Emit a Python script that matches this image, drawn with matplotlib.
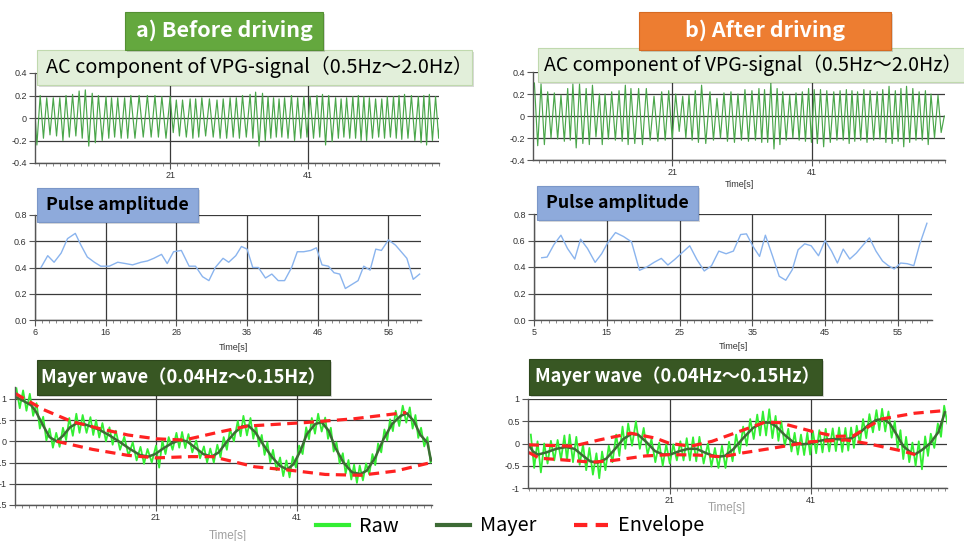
import matplotlib
matplotlib.use("Agg")
import matplotlib.pyplot as plt
from matplotlib.patches import Rectangle
from matplotlib.ticker import MultipleLocator

plt.rcParams['font.family'] = ['Liberation Sans', 'DejaVu Sans']
JP = ['Noto Sans CJK JP', 'DejaVu Sans']

# ---------------- data ----------------
# pulse amplitude (one value per beat)
pulse_t_left = [6.85, 7.8, 8.7, 9.7, 10.6, 11.7, 12.5, 13.4, 14.4, 15.3,
                16.5, 17.7, 18.8, 19.8, 21, 21.9, 22.8, 23.9, 24.7, 25.6,
                26.7, 27.8, 28.7, 29.7, 30.6, 31.5, 32.6, 33.4, 34.4, 35.2,
                36, 36.8, 37.6, 38.6, 39.5, 40.4, 41.3, 42.3, 43.1, 44,
                45, 45.8, 46.6, 47.5, 48.3, 49.1, 49.9, 50.8, 51.7, 52.5,
                53.4, 54.2, 55, 56, 57, 57.8, 58.6, 59.5, 60.4]
pulse_v_left = [0.40, 0.49, 0.44, 0.51, 0.62, 0.66, 0.57, 0.48, 0.44, 0.41,
                0.41, 0.44, 0.43, 0.42, 0.44, 0.45, 0.47, 0.50, 0.43, 0.52,
                0.53, 0.41, 0.41, 0.33, 0.30, 0.40, 0.47, 0.44, 0.49, 0.56,
                0.54, 0.40, 0.40, 0.32, 0.35, 0.30, 0.30, 0.40, 0.52, 0.52,
                0.53, 0.55, 0.42, 0.41, 0.36, 0.35, 0.24, 0.27, 0.30, 0.41,
                0.38, 0.54, 0.53, 0.61, 0.57, 0.52, 0.47, 0.31, 0.35]
pulse_t_right = [6.06, 6.8, 7.75, 8.7, 9.6, 10.6, 11.4, 12.35, 13.4, 14.3,
                 15.1, 16.2, 17.3, 18.4, 19.5, 20.5, 21.5, 22.5, 23.4, 24.3,
                 25.2, 26.4, 27.4, 28.4, 29.4, 30.4, 31.4, 32.4, 33.4, 34.2,
                 35.1, 36, 36.8, 37.8, 38.7, 39.6, 40.5, 41.3, 42.2, 43.1,
                 44.1, 45, 45.9, 46.7, 47.5, 48.4, 49.3, 50.3, 51.1, 52,
                 52.9, 53.7, 54.5, 55.4, 56.3, 57.2, 58, 59]
pulse_v_right = [0.47, 0.475, 0.57, 0.64, 0.54, 0.46, 0.61, 0.54, 0.435, 0.50,
                 0.58, 0.66, 0.63, 0.59, 0.375, 0.40, 0.435, 0.465, 0.415, 0.455,
                 0.50, 0.56, 0.455, 0.37, 0.41, 0.52, 0.50, 0.52, 0.645, 0.65,
                 0.555, 0.48, 0.64, 0.48, 0.33, 0.30, 0.38, 0.53, 0.575, 0.56,
                 0.485, 0.60, 0.52, 0.43, 0.535, 0.46, 0.505, 0.57, 0.62, 0.52,
                 0.445, 0.41, 0.385, 0.43, 0.425, 0.41, 0.57, 0.73]

# beat times for the AC signal and the raw signal
beats_left = [1.2, 2.15, 3.1, 4.05, 5.0, 5.9] + pulse_t_left
beats_right = [1.3, 2.25, 3.2, 4.15, 5.1] + pulse_t_right + [59.9]

# AC component: peak at each beat, trough after it
vpg_peak_left = [0.24, 0.20, 0.18, 0.18, 0.18, 0.20, 0.21, 0.24, 0.25, 0.22,
                 0.20, 0.19, 0.18, 0.18, 0.18, 0.20, 0.20, 0.20, 0.20, 0.19,
                 0.19, 0.16, 0.16, 0.17, 0.17, 0.18, 0.17, 0.16, 0.17, 0.18,
                 0.18, 0.20, 0.21, 0.23, 0.22, 0.19, 0.18, 0.17, 0.18, 0.20,
                 0.18, 0.19, 0.19, 0.20, 0.21, 0.20, 0.18, 0.17, 0.18, 0.19,
                 0.20, 0.19, 0.18, 0.17, 0.17, 0.19, 0.19, 0.20, 0.21, 0.20,
                 0.19, 0.20, 0.21, 0.19, 0.16]
vpg_trough_left = [-0.24, -0.18, -0.15, -0.16, -0.20, -0.17, -0.16, -0.18, -0.25, -0.22,
                   -0.20, -0.18, -0.17, -0.18, -0.18, -0.18, -0.17, -0.17, -0.17, -0.18,
                   -0.13, -0.16, -0.17, -0.18, -0.17, -0.16, -0.17, -0.18, -0.18, -0.17,
                   -0.18, -0.17, -0.18, -0.25, -0.20, -0.18, -0.17, -0.17, -0.18, -0.20,
                   -0.18, -0.17, -0.18, -0.17, -0.24, -0.21, -0.18, -0.17, -0.18, -0.18,
                   -0.20, -0.20, -0.18, -0.17, -0.18, -0.17, -0.18, -0.19, -0.18, -0.20,
                   -0.22, -0.24, -0.20, -0.18, -0.15]
vpg_peak_right = [0.30, 0.29, 0.22, 0.21, 0.19, 0.25, 0.29, 0.29, 0.25, 0.28,
                  0.20, 0.20, 0.22, 0.23, 0.28, 0.25, 0.25, 0.25, 0.18, 0.22,
                  0.23, 0.20, 0.18, 0.19, 0.23, 0.28, 0.22, 0.16, 0.21, 0.22,
                  0.20, 0.24, 0.23, 0.25, 0.24, 0.30, 0.25, 0.22, 0.19, 0.21,
                  0.22, 0.25, 0.24, 0.24, 0.23, 0.22, 0.23, 0.24, 0.23, 0.22,
                  0.24, 0.23, 0.22, 0.24, 0.27, 0.23, 0.25, 0.27, 0.25, 0.22,
                  0.23, 0.20, 0.19, 0.0]
vpg_trough_right = [-0.27, -0.26, -0.20, -0.21, -0.23, -0.22, -0.29, -0.25, -0.26, -0.19,
                    -0.26, -0.21, -0.22, -0.23, -0.26, -0.25, -0.26, -0.22, -0.23, -0.22,
                    -0.21, -0.14, -0.20, -0.22, -0.24, -0.25, -0.22, -0.20, -0.23, -0.24,
                    -0.22, -0.23, -0.22, -0.24, -0.24, -0.30, -0.26, -0.22, -0.20, -0.22,
                    -0.23, -0.24, -0.25, -0.28, -0.24, -0.22, -0.22, -0.25, -0.23, -0.22,
                    -0.24, -0.22, -0.21, -0.24, -0.25, -0.23, -0.28, -0.24, -0.22, -0.22,
                    -0.26, -0.20, -0.15]

# raw signal: peak at each beat, trough after it
raw_peak_left = [1.25, 1.2, 1.12, 0.9, 0.58, 0.3, 0.2, 0.32, 0.55, 0.65,
                 0.62, 0.57, 0.5, 0.43, 0.33, 0.25, 0.11, -0.02, -0.13, -0.18,
                 -0.1, 0.02, 0.1, 0.2, 0.22, 0.17, 0.02, -0.12, -0.17, -0.08,
                 0.1, 0.28, 0.48, 0.6, 0.55, 0.38, 0.15, -0.02, -0.2, -0.38,
                 -0.45, -0.36, -0.1, 0.33, 0.55, 0.65, 0.56, 0.32, -0.02, -0.28,
                 -0.44, -0.55, -0.57, -0.52, -0.3, -0.05, 0.28, 0.52, 0.72, 0.84,
                 0.8, 0.62, 0.32, 0.1, -0.3]
raw_trough_left = [0.78, 0.72, 0.6, 0.3, 0.02, -0.15, -0.13, 0.03, 0.13, 0.2,
                   0.2, 0.15, 0.09, 0.0, -0.08, -0.2, -0.34, -0.45, -0.53, -0.5,
                   -0.62, -0.3, -0.2, -0.15, -0.16, -0.26, -0.4, -0.5, -0.5, -0.38,
                   -0.2, 0.0, 0.12, 0.14, 0.06, -0.12, -0.32, -0.5, -0.68, -0.82,
                   -0.85, -0.62, -0.3, 0.05, 0.18, 0.23, 0.06, -0.24, -0.52, -0.76,
                   -0.9, -0.98, -0.92, -0.78, -0.56, -0.26, 0.02, 0.24, 0.36, 0.44,
                   0.3, 0.08, -0.12, -0.5, -0.45]
raw_peak_right = [0.2, 0.05, 0.0, 0.06, 0.08, 0.18, 0.2, 0.15, -0.02, -0.1,
                  -0.22, -0.18, -0.05, 0.2, 0.38, 0.45, 0.5, 0.35, 0.1, 0.02,
                  -0.02, -0.02, 0.05, 0.12, 0.14, 0.15, 0.0, -0.1, -0.05, 0.04,
                  0.2, 0.38, 0.55, 0.65, 0.72, 0.77, 0.62, 0.5, 0.33, 0.24,
                  0.2, 0.24, 0.27, 0.3, 0.33, 0.34, 0.36, 0.35, 0.36, 0.4,
                  0.55, 0.66, 0.75, 0.78, 0.72, 0.5, 0.3, 0.15, 0.02, 0.05,
                  0.16, 0.22, 0.45, 0.85]
raw_trough_right = [-0.55, -0.65, -0.45, -0.38, -0.36, -0.38, -0.42, -0.48, -0.6, -0.7,
                    -0.78, -0.6, -0.42, -0.28, -0.12, -0.05, -0.12, -0.25, -0.42, -0.5,
                    -0.45, -0.38, -0.38, -0.38, -0.4, -0.45, -0.52, -0.55, -0.55, -0.4,
                    -0.22, -0.05, 0.1, 0.18, 0.18, 0.12, 0.06, -0.05, -0.18, -0.25,
                    -0.26, -0.25, -0.22, -0.2, -0.18, -0.17, -0.19, -0.16, -0.1, 0.0,
                    0.12, 0.25, 0.3, 0.27, 0.13, -0.12, -0.35, -0.42, -0.5, -0.58,
                    -0.28, -0.1, 0.15, 0.45]

# Mayer wave
mayer_t_left = [1, 2.1, 3.3, 4, 5, 5.9, 6.9, 7.8, 8.8, 9.7,
                10.7, 11.8, 13, 14.5, 15.9, 17.3, 18.7, 19.9, 20.9, 22,
                23.2, 24.4, 25.4, 26.5, 27.7, 28.9, 29.9, 31, 32.2, 33.2,
                34.1, 35.1, 36.3, 37.5, 38.6, 39.6, 40.5, 41.5, 42.4, 43.6,
                44.5, 45.5, 46.4, 47.6, 48.8, 50, 50.9, 52.1, 53.3, 54.5,
                55.7, 56.6, 57.6, 58.5, 59.5, 60]
mayer_v_left = [1.05, 0.96, 0.85, 0.69, 0.37, 0.1, 0.0, 0.13, 0.33, 0.42,
                0.41, 0.35, 0.27, 0.13, -0.02, -0.18, -0.32, -0.36, -0.3, -0.17,
                -0.05, 0.03, 0.0, -0.14, -0.3, -0.36, -0.26, -0.02, 0.21, 0.35,
                0.37, 0.21, -0.1, -0.38, -0.58, -0.66, -0.54, -0.22, 0.17, 0.41,
                0.45, 0.25, -0.14, -0.5, -0.73, -0.77, -0.69, -0.38, 0.06, 0.41,
                0.6, 0.66, 0.47, 0.15, -0.03, -0.45]
mayer_t_right = [1, 1.6, 2.3, 3.5, 4.9, 6.3, 7.5, 8.5, 9.7, 10.8,
                 12, 13.2, 14.4, 15.6, 16.5, 17.7, 18.9, 20.1, 21.2, 22.4,
                 23.6, 24.8, 26.2, 27.6, 28.8, 30, 31.4, 32.8, 34.2, 35.2,
                 36.1, 37.3, 38.5, 39.7, 40.8, 42, 43.2, 44.4, 45.6, 46.8,
                 48, 49.1, 50.3, 51.3, 52.2, 53.2, 54.1, 55.3, 55.8, 56.7,
                 57.9, 59.1, 60]
mayer_v_right = [-0.03, -0.18, -0.25, -0.2, -0.12, -0.08, -0.12, -0.25, -0.4, -0.43,
                 -0.34, -0.13, 0.1, 0.22, 0.2, 0.03, -0.17, -0.25, -0.24, -0.17,
                 -0.12, -0.12, -0.22, -0.3, -0.28, -0.13, 0.12, 0.35, 0.47, 0.47,
                 0.38, 0.19, 0.03, -0.02, 0.0, 0.05, 0.09, 0.1, 0.09, 0.12,
                 0.25, 0.41, 0.53, 0.55, 0.45, 0.19, -0.06, -0.22, -0.24, -0.15,
                 0.0, 0.26, 0.7]

# envelopes
env_up_t_left = [1, 5, 9, 13, 17, 21, 25, 30, 34, 42, 49, 56.5]
env_up_v_left = [1.13, 0.75, 0.47, 0.3, 0.15, 0.06, 0.03, 0.22, 0.36, 0.44, 0.53, 0.68]
env_lo_t_left = [6.9, 12, 17, 21, 26, 29, 35, 40, 45, 50, 55, 60]
env_lo_v_left = [0.0, -0.19, -0.33, -0.39, -0.36, -0.36, -0.6, -0.68, -0.78, -0.8, -0.7, -0.5]
env_up_t_right = [1, 7.3, 11, 15.5, 19, 21, 24, 27, 30.5, 34.5, 36.5, 41, 44.5, 47, 51, 55.7, 60]
env_up_v_right = [-0.03, -0.06, 0.08, 0.23, 0.12, 0.0, -0.06, 0.05, 0.25, 0.48, 0.47,
                  0.28, 0.16, 0.17, 0.55, 0.68, 0.74]
env_lo_t_right = [1, 2.5, 6, 10, 13, 17.5, 21, 25, 28.5, 31, 35, 41, 46, 49, 54, 55.8]
env_lo_v_right = [-0.2, -0.33, -0.37, -0.42, -0.38, -0.28, -0.25, -0.26, -0.3, -0.22,
                  -0.12, 0.04, 0.08, 0.0, -0.17, -0.25]


def zigzag(beats, peaks, troughs):
    # peak on the beat, trough half way to the next beat
    t, v = [], []
    for i in range(len(peaks)):
        t.append(beats[i])
        v.append(peaks[i])
        if i < len(troughs):
            nxt = beats[i + 1] if i + 1 < len(beats) else beats[i] + 0.9
            t.append((beats[i] + nxt) / 2)
            v.append(troughs[i])
    return t, v


# ---------------- figure ----------------
W, H = 964, 541
fig = plt.figure(figsize=(W / 100, H / 100), dpi=100)


def px_axes(x0, y0, x1, y1):
    return fig.add_axes([x0 / W, 1 - y1 / H, (x1 - x0) / W, (y1 - y0) / H])


def style(ax, xlim, ylim, xticks, yticks, ylabels):
    ax.set_xlim(*xlim)
    ax.set_ylim(*ylim)
    ax.set_xticks(xticks)
    ax.set_yticks(yticks)
    ax.set_yticklabels(ylabels)
    ax.xaxis.set_minor_locator(MultipleLocator(1))
    ax.grid(True, which='major', color='#3a3a3a', lw=0.9)
    ax.set_axisbelow(True)
    for s in ('top', 'right'):
        ax.spines[s].set_visible(False)
    for s in ('left', 'bottom'):
        ax.spines[s].set_color('#555555')
        ax.spines[s].set_linewidth(1.0)
    ax.tick_params(which='major', length=4, width=0.8, color='#555555',
                   labelsize=6.5, labelcolor='#333333', pad=2)
    ax.tick_params(which='minor', length=2.5, width=0.6, color='#777777')
    ax.patch.set_alpha(0)


# AC component
ax1 = px_axes(35, 73, 439, 163)
t, v = zigzag(beats_left, vpg_peak_left, vpg_trough_left)
ax1.plot(t, v, color='#4aa64a', lw=0.85)
style(ax1, (1.4, 60), (-0.4, 0.4), [21, 41], [-0.4, -0.2, 0, 0.2, 0.4],
      ['-0.4', '-0.2', '0', '0.2', '0.4'])

ax2 = px_axes(533, 72, 945, 160)
t, v = zigzag(beats_right, vpg_peak_right, vpg_trough_right)
ax2.plot(t, v, color='#4aa64a', lw=0.85)
style(ax2, (1.1, 60), (-0.4, 0.4), [21, 41], [-0.4, -0.2, 0, 0.2, 0.4],
      ['-0.4', '-0.2', '0', '0.2', '0.4'])
ax2.set_xlabel('Time[s]', fontsize=6.5, color='#333333')
ax2.xaxis.set_label_coords(0.502, -0.23)

# pulse amplitude
ax3 = px_axes(35, 215, 421, 320)
ax3.plot(pulse_t_left, pulse_v_left, color='#8ab4ee', lw=1.0)
style(ax3, (6, 60.6), (0, 0.8), list(range(6, 61, 10)), [0, 0.2, 0.4, 0.6, 0.8],
      ['0.0', '0.2', '0.4', '0.6', '0.8'])
ax3.set_xlabel('Time[s]', fontsize=6.5, color='#333333')
ax3.xaxis.set_label_coords(0.513, -0.22)

ax4 = px_axes(534, 214, 932, 320)
ax4.plot(pulse_t_right, pulse_v_right, color='#8ab4ee', lw=1.0)
style(ax4, (5, 59.7), (0, 0.8), list(range(5, 60, 10)), [0, 0.2, 0.4, 0.6, 0.8],
      ['0.0', '0.2', '0.4', '0.6', '0.8'])
ax4.set_xlabel('Time[s]', fontsize=6.5, color='#333333')
ax4.xaxis.set_label_coords(0.5, -0.21)

# Mayer wave
env_style = dict(color='#ff2222', lw=2.3, linestyle=(0, (3.2, 2.0)))
ax5 = px_axes(15, 387, 432, 505)
t, v = zigzag(beats_left, raw_peak_left, raw_trough_left)
raw_line, = ax5.plot(t, v, color='#33ee33', lw=1.3)
mayer_line, = ax5.plot(mayer_t_left, mayer_v_left, color='#3d6b35', lw=1.8)
env_line, = ax5.plot(env_up_t_left, env_up_v_left, **env_style)
ax5.plot(env_lo_t_left, env_lo_v_left, **env_style)
style(ax5, (1.0, 60.15), (-1.5, 1.28), [21, 41], [-1.5, -1, -0.5, 0, 0.5, 1],
      ['-1.5', '-1', '-0.5', '0', '0.5', '1'])
ax5.set_xlabel('Time[s]', fontsize=8.5, color='#a0a0a0')
ax5.xaxis.set_label_coords(0.51, -0.21)

ax6 = px_axes(528, 399, 947, 488)
t, v = zigzag(beats_right, raw_peak_right, raw_trough_right)
ax6.plot(t, v, color='#33ee33', lw=1.3)
ax6.plot(mayer_t_right, mayer_v_right, color='#3d6b35', lw=1.8)
ax6.plot(env_up_t_right, env_up_v_right, **env_style)
ax6.plot(env_lo_t_right, env_lo_v_right, **env_style)
style(ax6, (0.9, 60.3), (-1, 1), [21, 41], [-1, -0.5, 0, 0.5, 1],
      ['-1', '-0.5', '0', '0.5', '1'])
ax6.set_xlabel('Time[s]', fontsize=8.5, color='#a0a0a0')
ax6.xaxis.set_label_coords(0.475, -0.16)

# ---------------- label boxes ----------------
ov = fig.add_axes([0, 0, 1, 1], zorder=10)
ov.set_xlim(0, W)
ov.set_ylim(H, 0)
ov.axis('off')


def box(x0, y0, x1, y1, fc, ec, text, tx, ty, color, size, weight):
    ov.add_patch(Rectangle((x0 + 2, y0 + 2), x1 - x0, y1 - y0, fc='#000000',
                           alpha=0.15, lw=0))
    ov.add_patch(Rectangle((x0, y0), x1 - x0, y1 - y0, fc=fc, ec=ec, lw=0.8))
    ov.text(tx, ty, text, ha='center', va='center', color=color,
            fontsize=size, fontweight=weight, family=JP)


ac_text = 'AC component of VPG-signal（0.5Hz～2.0Hz）'
mayer_text = 'Mayer wave（0.04Hz～0.15Hz）'
box(37, 50, 472, 85, '#e2efda', '#c0d9ae', ac_text, 259, 67, 'black', 14.3, 'normal')
box(538, 48, 975, 82, '#e2efda', '#c0d9ae', ac_text, 753, 65, 'black', 14.0, 'normal')
box(125, 12, 323, 50, '#64a83e', '#548f33', 'a) Before driving', 224, 30, 'white', 15.5, 'bold')
box(639, 12, 891, 50, '#ed7d31', '#d66a22', 'b) After driving', 765, 30, 'white', 15.5, 'bold')
box(37, 188, 198, 222, '#8eaadb', '#7b97c8', 'Pulse amplitude', 117, 205, 'black', 12.8, 'bold')
box(537, 186, 698, 220, '#8eaadb', '#7b97c8', 'Pulse amplitude', 617, 203, 'black', 12.8, 'bold')
box(37, 360, 330, 395, '#385723', '#2d471c', mayer_text, 183, 377, 'white', 13.2, 'bold')
box(529, 359, 822, 395, '#385723', '#2d471c', mayer_text, 677, 376, 'white', 13.2, 'bold')

# ---------------- legend ----------------
leg = fig.legend([raw_line, mayer_line, env_line], ['Raw', 'Mayer', 'Envelope'],
                 loc='center', bbox_to_anchor=(510 / W, 1 - 526 / H), ncol=3,
                 frameon=False, handlelength=1.7, handletextpad=0.5,
                 columnspacing=1.9, prop={'family': JP, 'size': 14.3})
for ln in leg.get_lines():
    ln.set_linewidth(3)

fig.savefig('out.png', dpi=100)
